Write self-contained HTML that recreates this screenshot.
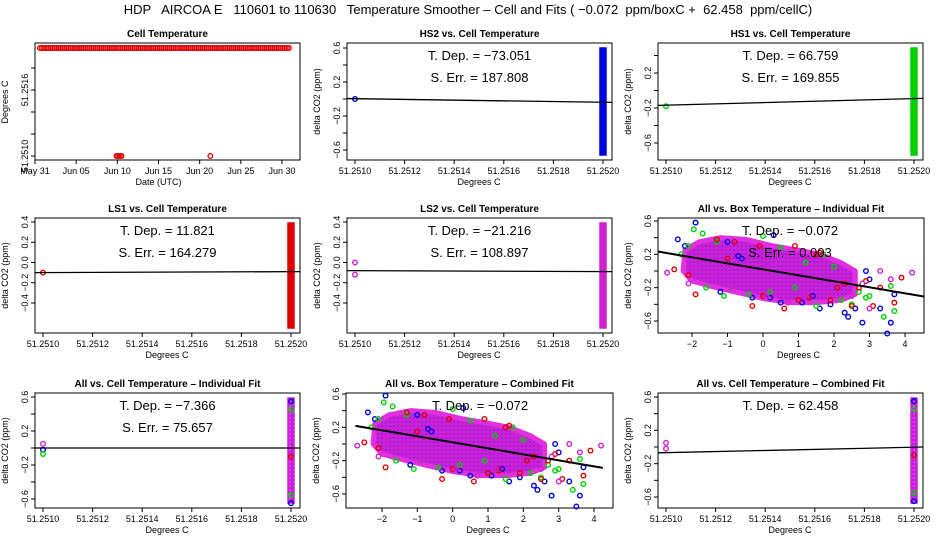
<!DOCTYPE html>
<html><head><meta charset="utf-8"><style>
body{margin:0;background:#fff;}
svg{display:block;font-family:"Liberation Sans",sans-serif;}
</style></head><body>
<svg id="c" width="936" height="540" viewBox="0 0 936 540">
<defs>
<pattern id="mg" width="4" height="4" patternUnits="userSpaceOnUse"><rect width="4" height="4" fill="#d020d0"/><circle cx="2" cy="2" r="1" fill="#8020ff"/></pattern>
<pattern id="mc" width="4" height="4" patternUnits="userSpaceOnUse"><rect width="4" height="4" fill="#c020e0"/><circle cx="2" cy="2" r="1" fill="#ff40ff"/></pattern>
</defs>
<text x="468" y="14" font-size="13" text-anchor="middle" xml:space="preserve">HDP   AIRCOA E   110601 to 110630   Temperature Smoother – Cell and Fits ( −0.072  ppm/boxC +  62.458  ppm/cellC)</text>
</svg>
<script>
// ---- data ----
const cellDays=[];for(let d=0.6;d<=30.9;d+=0.25)cellDays.push(d);
const cellLowDays=[9.9,10.1,10.3,10.5,21.3];
const cellHigh=51.25196, cellLow=51.25100;
const dateTicks=["May 31","Jun 05","Jun 10","Jun 15","Jun 20","Jun 25","Jun 30"];
const tempTicks=["51.2510","51.2512","51.2514","51.2516","51.2518","51.2520"];
const boxTicks=[-2,-1,0,1,2,3,4];
const fitSlopes=[-73.051,66.759,11.821,-21.216];
const fitErrs=[187.808,169.855,164.279,108.897];
const blueX=[-1.9,-2.4,-1.0,-0.7,0.3,0.2,1.6,2.8,2.9,3.0,3.5,3.6,3.7,2.4,2.3,1.9,0.5,-0.3,-1.2,1.1,2.6,-2.2,3.3,-0.6,1.4];
const blueY=[0.58,0.38,0.35,0.18,0.43,-0.32,-0.45,-0.62,0.0,-0.1,-0.75,-0.62,-0.28,-0.55,-0.5,-0.4,-0.38,-0.32,-0.25,-0.38,-0.45,0.3,-0.45,0.15,-0.3];
const greenX=[-1.95,-1.7,-2.1,-1.3,0.0,0.5,1.2,1.7,2.0,2.7,3.4,3.7,3.6,-1.1,-0.4,0.9,2.2,-2.3,-1.6,1.5,2.9,0.2,-0.9,3.0,2.5];
const greenY=[0.5,0.45,0.3,0.35,0.42,0.28,0.1,0.2,0.05,-0.25,-0.55,-0.48,-0.18,-0.3,-0.28,-0.2,-0.35,0.2,-0.2,-0.42,-0.32,-0.25,-0.2,-0.3,-0.4];
const redX=[-2.5,-1.9,-1.3,-0.8,-0.3,0.0,0.6,1.0,1.3,1.6,1.9,2.1,2.5,2.9,3.1,3.7,3.9,-0.1,0.9,2.3,-1.0,1.5,2.7,-2.1,3.3];
const redY=[0.02,-0.28,0.38,0.35,-0.42,-0.3,-0.45,-0.35,-0.32,0.22,-0.35,-0.2,-0.42,-0.12,-0.42,-0.38,-0.08,0.3,0.3,-0.15,0.15,0.2,-0.2,-0.05,-0.2];
const magX=[-2.7,-2.1,-1.4,-0.9,0.1,0.7,1.2,2.5,3.0,3.3,3.6,4.2,1.8,2.8,-1.9];
const magY=[-0.02,-0.15,-0.05,-0.2,-0.3,-0.38,-0.3,-0.3,-0.45,0.0,-0.1,-0.02,0.1,-0.15,0.05];
const coreX=[-2.2,-1.8,-1.2,-0.5,0.3,1.0,1.6,2.2,2.6,2.6,2.2,1.5,0.8,0.0,-0.8,-1.5,-2.0,-2.25];
const coreY=[0.25,0.35,0.4,0.38,0.3,0.25,0.2,0.1,0.0,-0.28,-0.35,-0.38,-0.38,-0.33,-0.25,-0.18,-0.12,0.0];
const boxSlope=-0.072, boxIntercept=0.02;
// ---- helpers ----
const svg=document.getElementById('c');const NS='http://www.w3.org/2000/svg';
function mk(t,a,p){const e=document.createElementNS(NS,t);for(const k in a)e.setAttribute(k,a[k]);(p||svg).appendChild(e);return e;}
function txt(x,y,s,size,anchor,extra){const e=mk('text',Object.assign({x:x,y:y,'font-size':size||9,'text-anchor':anchor||'middle'},extra||{}));e.textContent=s;return e;}
function panel(name,title,L,R,T,B){const g=mk('g',{});
 const r=mk('rect',{x:L,y:T,width:R-L,height:B-T,fill:'none',stroke:'#000','stroke-width':1},g);
 const t=txt((L+R)/2,T-6,title,10,'middle',{'font-weight':'bold'});g.appendChild(t);return g;}
function xaxis(g,B,vals,labels,sx,lab){vals.forEach((v,i)=>{const x=sx(v);mk('line',{x1:x,x2:x,y1:B,y2:B+4,stroke:'#000'},g);const t=txt(x,B+14,labels[i],9);g.appendChild(t);});
 mk('line',{x1:sx(vals[0]),x2:sx(vals[vals.length-1]),y1:B,y2:B,stroke:'#000'},g);
 const t=txt((sx(vals[0])+sx(vals[vals.length-1]))/2,B+25,lab,9);g.appendChild(t);}
function yaxis(g,L,vals,labels,sy,lab,cy){vals.forEach((v,i)=>{const y=sy(v);mk('line',{x1:L-4,x2:L,y1:y,y2:y,stroke:'#000'},g);if(labels[i]!==''){const t=txt(L-7,y,labels[i],9,'middle',{transform:`rotate(-90 ${L-7} ${y})`});g.appendChild(t);}});
 mk('line',{x1:L,x2:L,y1:sy(vals[0]),y2:sy(vals[vals.length-1]),stroke:'#000'},g);
 const t=txt(L-27,cy,lab,9,'middle',{transform:`rotate(-90 ${L-27} ${cy})`});g.appendChild(t);}
function pt(g,x,y,c,name){const e=mk('circle',{cx:x,cy:y,r:2.3,fill:'none',stroke:c,'stroke-width':1.4},g);return e;}
const lin=(d0,d1,p0,p1)=>v=>p0+(v-d0)/(d1-d0)*(p1-p0);
// ---- panel 1 ----
(function(){const L=35,R=300,T=43,B=160;const g=panel('cell-temperature-panel','Cell Temperature',L,R,T,B);
 const sx=lin(0,30,35,282),sy=lin(51.2510,51.25196,156,48);
 cellDays.forEach(d=>pt(g,sx(d),sy(cellHigh),'#e00000','cell-temp-point'));
 cellLowDays.forEach(d=>pt(g,sx(d),sy(cellLow),'#e00000','cell-temp-low-point'));
 xaxis(g,B,[0,5,10,15,20,25,30],dateTicks,sx,'Date (UTC)');
 yaxis(g,L,[51.2510,51.2512,51.2514,51.2516,51.2518],['51.2510','','','51.2516',''],v=>lin(51.2510,51.2519,156,57)(v),'Degrees C',102);})();
// ---- temp panels ----
function tempPanel(name,title,L,T,B,yt,ylab,y0,y1,py0,py1,col,colMulti,leftY,fit,ann){const R=L+265;const g=panel(name,title,L,R,T,B);
 const sx=lin(51.2510,51.2520,L+8,R-9),sy=lin(y0,y1,py0,py1);
 xaxis(g,B,[51.2510,51.2512,51.2514,51.2516,51.2518,51.2520],tempTicks,sx,'Degrees C');
 yaxis(g,L,yt,ylab,sy,'delta CO2 (ppm)',(T+B)/2);
 const cx=sx(51.2520);
 const rc=mk('rect',{x:cx-3,y:T+5,width:6,height:B-T-10,fill:colMulti?'url(#mc)':col,stroke:col,'stroke-width':1.5},g);
 if(colMulti){[[0.55,'#0000e0'],[0.45,'#00d000'],[-0.55,'#00d000'],[-0.65,'#0000e0'],[-0.1,'#e00000']].forEach(a=>pt(g,cx,sy(a[0]),a[1],'column-point'));}
 leftY.forEach(v=>pt(g,sx(51.2510),sy(v[0]),v[1],'left-point'));
 const fl=mk('line',{x1:L,x2:R,y1:sy(fit[0]),y2:sy(fit[1]),stroke:'#000','stroke-width':1.3},g);
 ann.forEach((s,i)=>{const t=txt((L+R)/2,T+17+i*22,s,13,'middle',{'xml:space':'preserve'});g.appendChild(t);});}
const t6=[0.6,0.4,0.2,0,-0.2,-0.4,-0.6],l6=['0.6','','0.2','','−0.2','','−0.6'];
const t4=[0.4,0.2,0,-0.2,-0.4],l4=['0.4','0.2','0.0','−0.2','−0.4'];
tempPanel('hs2-panel','HS2 vs. Cell Temperature',347,43,160,t6,['0.6','','0.2','','−0.2','','−0.6'],0.6,-0.6,48,150,'#0000e0',false,[[0.0,'#0000e0']],[0.005,-0.04],['T. Dep.  =  '+fitSlopes[0].toFixed(3).replace('-','−'),'S. Err.  =  '+fitErrs[0].toFixed(3)]);
tempPanel('hs1-panel','HS1 vs. Cell Temperature',658,43,160,[0.4,0.2,0,-0.2,-0.4,-0.6],['','0.2','','−0.2','','−0.6'],0.2,-0.6,73,143,'#00d000',false,[[-0.18,'#00d000']],[-0.17,-0.09],['T. Dep.  =  '+fitSlopes[1].toFixed(3),'S. Err.  =  '+fitErrs[1].toFixed(3)]);
tempPanel('ls1-panel','LS1 vs. Cell Temperature',35,218,333,t4,l4,0.4,-0.4,222,303,'#e00000',false,[[-0.1,'#e00000']],[-0.1,-0.09],['T. Dep.  =  '+fitSlopes[2].toFixed(3),'S. Err.  =  '+fitErrs[2].toFixed(3)]);
tempPanel('ls2-panel','LS2 vs. Cell Temperature',347,218,333,t4,l4,0.4,-0.4,222,303,'#d020d0',false,[[0.0,'#d020d0'],[-0.12,'#d020d0']],[-0.08,-0.09],['T. Dep.  =  '+fitSlopes[3].toFixed(3).replace('-','−'),'S. Err.  =  '+fitErrs[3].toFixed(3)]);
tempPanel('all-cell-individual-panel','All vs. Cell Temperature – Individual Fit',35,393,508,t6,l6,0.6,-0.6,397,499,'#d020d0',true,[[0.05,'#d020d0'],[-0.02,'#0000e0'],[-0.07,'#00d000']],[0.0,0.0],['T. Dep.  =  −7.366','S. Err.  =  75.657']);
tempPanel('all-cell-combined-panel','All vs. Cell Temperature – Combined Fit',658,393,508,t6,l6,0.6,-0.6,397,497,'#d020d0',true,[[0.05,'#d020d0'],[-0.02,'#d020d0']],[-0.07,0.0],['T. Dep.  =  62.458']);
// ---- box panels ----
function boxPanel(name,title,L,R,T,B,sx,sy,ann){const g=panel(name,title,L,R,T,B);
 xaxis(g,B,boxTicks,boxTicks.map(v=>v<0?'−'+(-v):''+v),sx,'Degrees C');
 yaxis(g,L,t6,l6,sy,'delta CO2 (ppm)',(T+B)/2);
 const cp=mk('polygon',{points:coreX.map((x,i)=>sx(x)+','+sy(coreY[i])).join(' '),fill:'url(#mg)',stroke:'#e030e0','stroke-width':5,'stroke-linejoin':'round'},g);
 blueX.forEach((x,i)=>pt(g,sx(x),sy(blueY[i]),'#0000e0','hs2-point'));
 greenX.forEach((x,i)=>pt(g,sx(x),sy(greenY[i]),'#00d000','hs1-point'));
 redX.forEach((x,i)=>pt(g,sx(x),sy(redY[i]),'#e00000','ls1-point'));
 magX.forEach((x,i)=>pt(g,sx(x),sy(magY[i]),'#d020d0','ls2-point'));
 const x0=ann.x0,x1=ann.x1;const fl=mk('line',{x1:sx(x0),x2:sx(x1),y1:sy(boxIntercept+boxSlope*x0),y2:sy(boxIntercept+boxSlope*x1),stroke:'#000','stroke-width':2},g);
 ann.lines.forEach((s,i)=>{const t=txt(ann.ax,T+17+i*22,s,13,'middle',{'xml:space':'preserve'});g.appendChild(t);});}
boxPanel('all-box-individual-panel','All vs. Box Temperature – Individual Fit',658,924,218,333,lin(-2,4,692,905),lin(0.6,-0.6,221,321),{x0:-2.95,x1:4.55,ax:790,lines:['T. Dep.  =  −0.072','S. Err.  =  0.003']});
boxPanel('all-box-combined-panel','All vs. Box Temperature – Combined Fit',346,613,393,508,lin(-2,4,382,594),lin(0.6,-0.6,394,494),{x0:-2.75,x1:4.25,ax:480,lines:['T. Dep.  =  −0.072']});
</script>
</body></html>
